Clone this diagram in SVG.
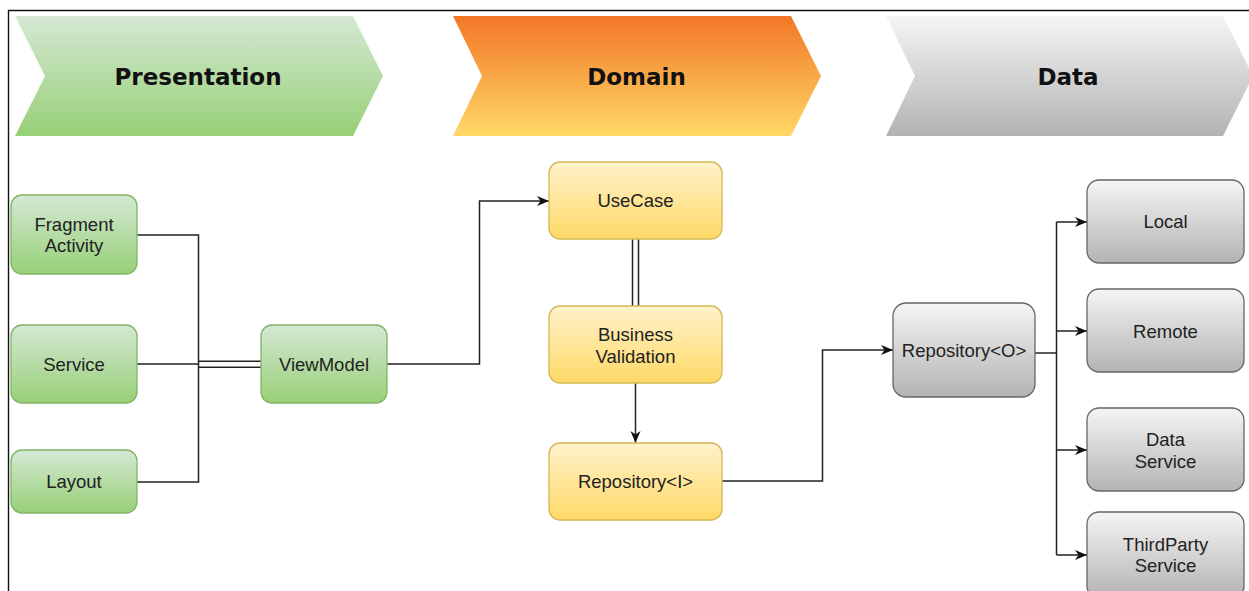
<svg xmlns="http://www.w3.org/2000/svg" width="1249" height="591" viewBox="0 0 1249 591">
<defs>
<linearGradient id="gGreen" x1="0" y1="0" x2="0" y2="1"><stop offset="0" stop-color="#d5e8d4"/><stop offset="1" stop-color="#97d077"/></linearGradient>
<linearGradient id="gOrange" x1="0" y1="0" x2="0" y2="1"><stop offset="0" stop-color="#f27628"/><stop offset="1" stop-color="#ffd966"/></linearGradient>
<linearGradient id="gYellow" x1="0" y1="0" x2="0" y2="1"><stop offset="0" stop-color="#fff2cc"/><stop offset="1" stop-color="#ffd966"/></linearGradient>
<linearGradient id="gGray" x1="0" y1="0" x2="0" y2="1"><stop offset="0" stop-color="#f5f5f5"/><stop offset="1" stop-color="#b3b3b3"/></linearGradient>
<marker id="arr" markerUnits="userSpaceOnUse" markerWidth="13" markerHeight="11" refX="12" refY="5.5" orient="auto" viewBox="0 0 13 11">
<path d="M0,0.5 L12,5.5 L0,10.5 L3.5,5.5 Z" fill="#111"/>
</marker>
</defs>
<style>
.title{font-family:"DejaVu Sans",Verdana,sans-serif;font-weight:bold;font-size:23px;fill:#111;text-anchor:middle}
.lbl{font-family:"Liberation Sans",Arial,Helvetica,sans-serif;font-size:18.5px;fill:#222;text-anchor:middle}
.green{fill:url(#gGreen);stroke:#82b366;stroke-width:1.3}
.yellow{fill:url(#gYellow);stroke:#d6b656;stroke-width:1.3}
.gray{fill:url(#gGray);stroke:#666666;stroke-width:1.3}
.edge{fill:none;stroke:#222;stroke-width:1.5}
.frame{fill:none;stroke:#111;stroke-width:1.4}
</style>
<rect width="1249" height="591" fill="#ffffff"/>
<path class="frame" d="M8.5,591 L8.5,10.5 L1249,10.5"/>

<g id="hdr-presentation">
<polygon points="15,16 353,16 383,76 353,136 15,136 45,76" fill="url(#gGreen)"/>
<text class="title" x="198" y="84.5">Presentation</text>
</g>
<g id="hdr-domain">
<polygon points="453,16 791,16 821,76 791,136 453,136 482,76" fill="url(#gOrange)"/>
<text class="title" x="636.5" y="84.5">Domain</text>
</g>
<g id="hdr-data">
<polygon points="886,16 1223,16 1253,76 1223,136 886,136 915,76" fill="url(#gGray)"/>
<text class="title" x="1068" y="84.5">Data</text>
</g>

<g id="connectors">
<path class="edge" d="M137,235 L198.5,235 L198.5,482 L137,482"/>
<path class="edge" d="M137,364 L198.5,364"/>
<path class="edge" d="M198.5,361.3 L261,361.3 M198.5,367.3 L261,367.3"/>
<path class="edge" d="M387,364 L479.5,364 L479.5,201 L549,201" marker-end="url(#arr)"/>
<path class="edge" d="M632.5,239 L632.5,306 M638.5,239 L638.5,306"/>
<path class="edge" d="M635.5,383 L635.5,443" marker-end="url(#arr)"/>
<path class="edge" d="M722,481 L822.5,481 L822.5,350 L893,350" marker-end="url(#arr)"/>
<path class="edge" d="M1035,353 L1056.5,353"/>
<path class="edge" d="M1056.5,222 L1056.5,555"/>
<path class="edge" d="M1056.5,222 L1087,222" marker-end="url(#arr)"/>
<path class="edge" d="M1056.5,331 L1087,331" marker-end="url(#arr)"/>
<path class="edge" d="M1056.5,450 L1087,450" marker-end="url(#arr)"/>
<path class="edge" d="M1056.5,555 L1087,555" marker-end="url(#arr)"/>
</g>

<g id="n-fragment">
<rect class="green" x="11" y="195" width="126" height="79" rx="11"/>
<text class="lbl" x="74" y="230.5">Fragment</text>
<text class="lbl" x="74" y="252">Activity</text>
</g>
<g id="n-service">
<rect class="green" x="11" y="325" width="126" height="78" rx="11"/>
<text class="lbl" x="74" y="370.5">Service</text>
</g>
<g id="n-layout">
<rect class="green" x="11" y="450" width="126" height="63" rx="11"/>
<text class="lbl" x="74" y="488">Layout</text>
</g>
<g id="n-viewmodel">
<rect class="green" x="261" y="325" width="126" height="78" rx="11"/>
<text class="lbl" x="324" y="370.5">ViewModel</text>
</g>

<g id="n-usecase">
<rect class="yellow" x="549" y="162" width="173" height="77" rx="11"/>
<text class="lbl" x="635.5" y="207">UseCase</text>
</g>
<g id="n-business">
<rect class="yellow" x="549" y="306" width="173" height="77" rx="11"/>
<text class="lbl" x="635.5" y="341">Business</text>
<text class="lbl" x="635.5" y="362.5">Validation</text>
</g>
<g id="n-repo-i">
<rect class="yellow" x="549" y="443" width="173" height="77" rx="11"/>
<text class="lbl" x="635.5" y="488">Repository&lt;I&gt;</text>
</g>

<g id="n-repo-o">
<rect class="gray" x="893" y="303" width="142" height="94" rx="13"/>
<text class="lbl" x="964" y="357">Repository&lt;O&gt;</text>
</g>
<g id="n-local">
<rect class="gray" x="1087" y="180" width="157" height="83" rx="12"/>
<text class="lbl" x="1165.5" y="228">Local</text>
</g>
<g id="n-remote">
<rect class="gray" x="1087" y="289" width="157" height="83" rx="12"/>
<text class="lbl" x="1165.5" y="337.5">Remote</text>
</g>
<g id="n-dataservice">
<rect class="gray" x="1087" y="408" width="157" height="83" rx="12"/>
<text class="lbl" x="1165.5" y="446">Data</text>
<text class="lbl" x="1165.5" y="467.5">Service</text>
</g>
<g id="n-thirdparty">
<rect class="gray" x="1087" y="512" width="157" height="86" rx="12"/>
<text class="lbl" x="1165.5" y="550.5">ThirdParty</text>
<text class="lbl" x="1165.5" y="572">Service</text>
</g>
</svg>
